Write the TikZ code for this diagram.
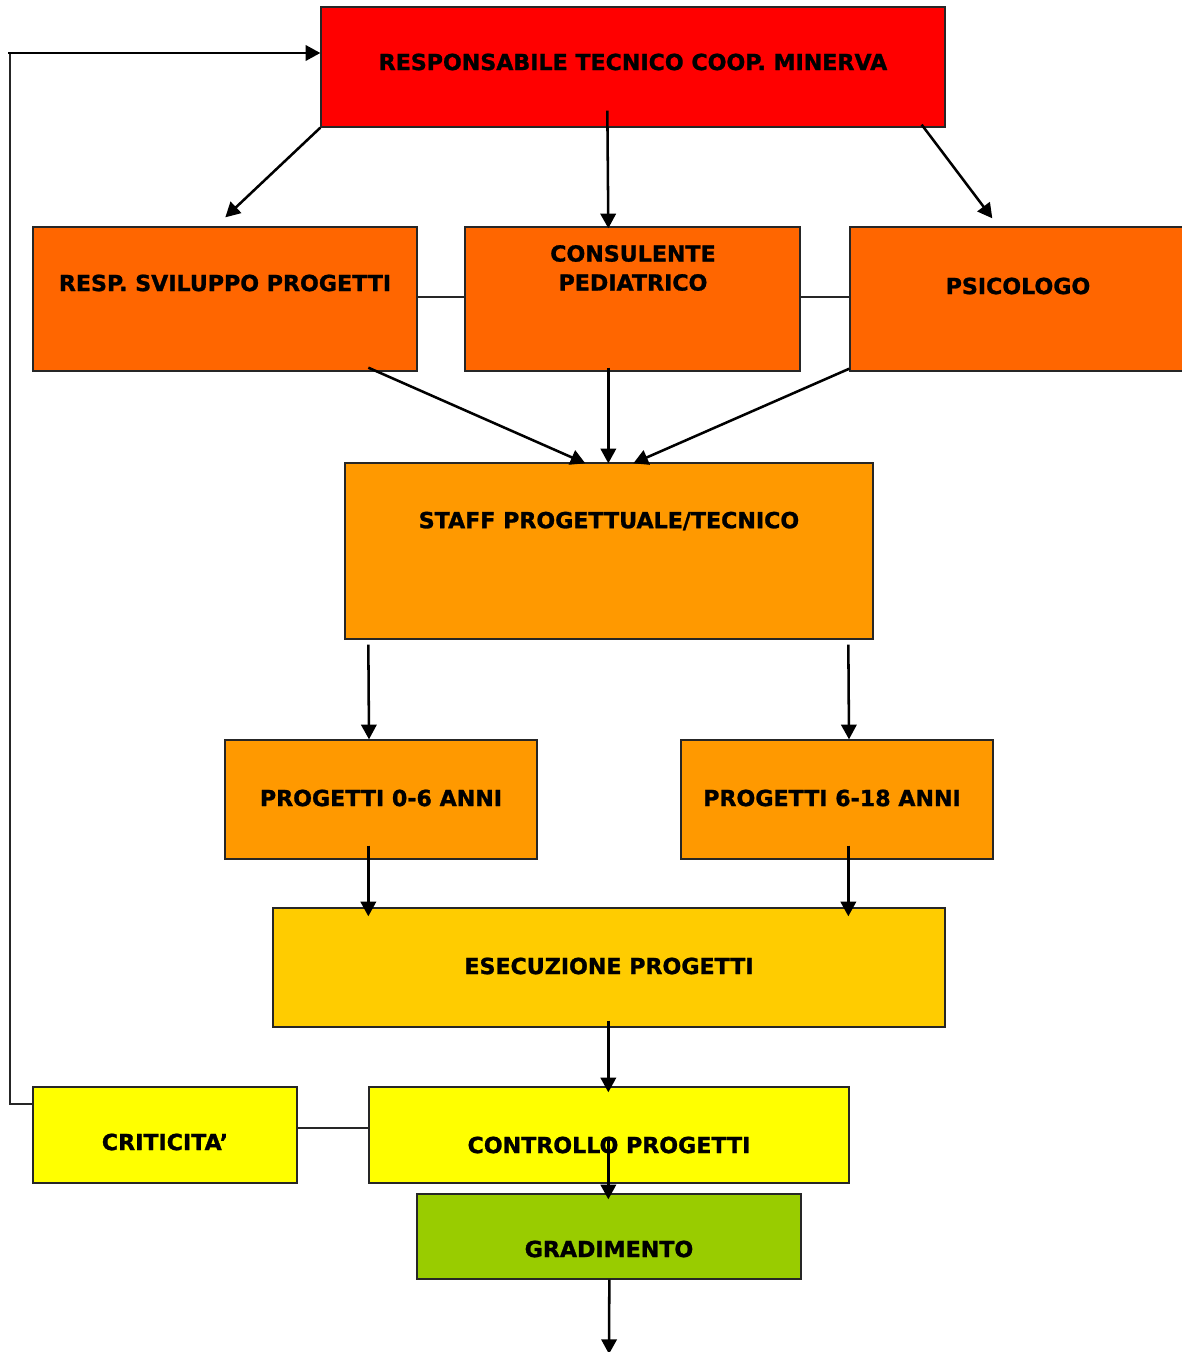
\documentclass[tikz,border=0pt]{standalone}
\usepackage{fontspec}
\setmainfont{DejaVu Sans}[BoldFeatures={FakeBold=1.2}]
\usetikzlibrary{arrows.meta,fit,calc}
\definecolor{cred}{HTML}{FF0000}
\definecolor{corange}{HTML}{FF6600}
\definecolor{clorange}{HTML}{FF9900}
\definecolor{cgold}{HTML}{FFCC00}
\definecolor{cyellow}{HTML}{FFFF00}
\definecolor{cgreen}{HTML}{99CC00}
\begin{document}
\begin{tikzpicture}[x=0.75pt,y=-0.75pt,
  box/.style={draw=black!85, line width=1pt, inner sep=0pt},
  lbl/.style={font=\bfseries\fontsize{16.6}{21.75}\selectfont, text=black, align=center, inner sep=0pt},
  arr/.style={line width=1.9pt, -{Triangle[length=11pt,width=11.5pt]}},
  ln/.style={line width=1.2pt, draw=black!85}]
\useasboundingbox (0,0) rectangle (1181,1352);
% boxes
\node[box, fill=cred,    fit={(321,7)(945,127)}] (resp) {};
\node[box, fill=corange, fit={(33,227)(417,371)}] (svil) {};
\node[box, fill=corange, fit={(465,227)(800,371)}] (cons) {};
\node[box, fill=corange, fit={(850,227)(1186,371)}] (psic) {};
\node[box, fill=clorange, fit={(345,463)(873,639)}] (staff) {};
\node[box, fill=clorange, fit={(225,740)(537,859)}] (p06) {};
\node[box, fill=clorange, fit={(681,740)(993,859)}] (p618) {};
\node[box, fill=cgold, fit={(273,908)(945,1027)}] (esec) {};
\node[box, fill=cyellow, fit={(33,1087)(297,1183)}] (crit) {};
\node[box, fill=cyellow, fit={(369,1087)(849,1183)}] (ctrl) {};
\node[box, fill=cgreen, fit={(417,1194)(801,1279)}] (grad) {};
% labels
\node[lbl] (tresp) at (633,62) {RESPONSABILE TECNICO COOP. MINERVA};
\node[lbl] (tsvil) at (225,283) {RESP. SVILUPPO PROGETTI};
\node[lbl] (tcons) at (633,268) {CONSULENTE\\PEDIATRICO};
\node[lbl] (tpsic) at (1018,286) {PSICOLOGO};
\node[lbl] (tstaff) at (609,521) {STAFF PROGETTUALE/TECNICO};
\node[lbl] (tp06) at (381,798) {PROGETTI 0-6 ANNI};
\node[lbl] (tp618) at (832,798) {PROGETTI 6-18 ANNI};
\node[lbl] (tesec) at (609,966) {ESECUZIONE PROGETTI};
\node[lbl] (tcrit) at (165,1142) {CRITICITA’};
\node[lbl] (tctrl) at (609,1145) {CONTROLLO PROGETTI};
\node[lbl] (tgrad) at (609,1249) {GRADIMENTO};
% plain links
\draw[ln] (svil.east |- 0,297) -- (cons.west |- 0,297);
\draw[ln] (cons.east |- 0,297) -- (psic.west |- 0,297);
\draw[ln] (crit.east |- 0,1128) -- (ctrl.west |- 0,1128);
% feedback loop
\coordinate (fb1) at (10,1104);
\coordinate (fb2) at (10,53);
\draw[line width=1.3pt, draw=black!85] (crit.west |- 0,1104) -- (fb1) -- (fb2);
\draw[arr] (8,53) -- (resp.west |- 0,53);
% arrows from top
\draw[arr] (resp.south west) -- ($(svil.north west)+(193,-9)$);
\draw[arr] ($(resp.south west)+(287,-17)$) -- ($(cons.north west)+(144,2)$);
\draw[arr] ($(resp.south east)+(-24,-3)$) -- ($(psic.north west)+(143,-8)$);
% to staff
\draw[arr] ($(svil.south west)+(336,-4)$) -- ($(staff.north west)+(241,1)$);
\draw[arr] ($(cons.south west)+(144,-4)$) -- ($(staff.north west)+(264,1)$);
\draw[arr] ($(psic.south west)+(0,-3)$) -- ($(staff.north west)+(289,1)$);
% staff to projects
\draw[arr] ($(staff.south west)+(24,5)$) -- (p06.north west -| 369,0);
\draw[arr] ($(staff.south west)+(504,5)$) -- (p618.north west -| 849,0);
% projects to esecuzione
\draw[arr] ($(p06.south west)+(144,-14)$) -- ($(esec.north west)+(96,9)$);
\draw[arr] ($(p618.south west)+(168,-14)$) -- ($(esec.north west)+(576,9)$);
% esecuzione to controllo
\draw[arr] ($(esec.south west)+(336,-7)$) -- ($(ctrl.north west)+(240,6)$);
% controllo to gradimento
\draw[arr] ($(ctrl.north west)+(240,53)$) -- ($(grad.north west)+(192,6)$);
% gradimento out
\coordinate (out) at (609,1354);
\draw[arr] ($(grad.south west)+(193,0)$) -- (out);
\end{tikzpicture}
\end{document}
